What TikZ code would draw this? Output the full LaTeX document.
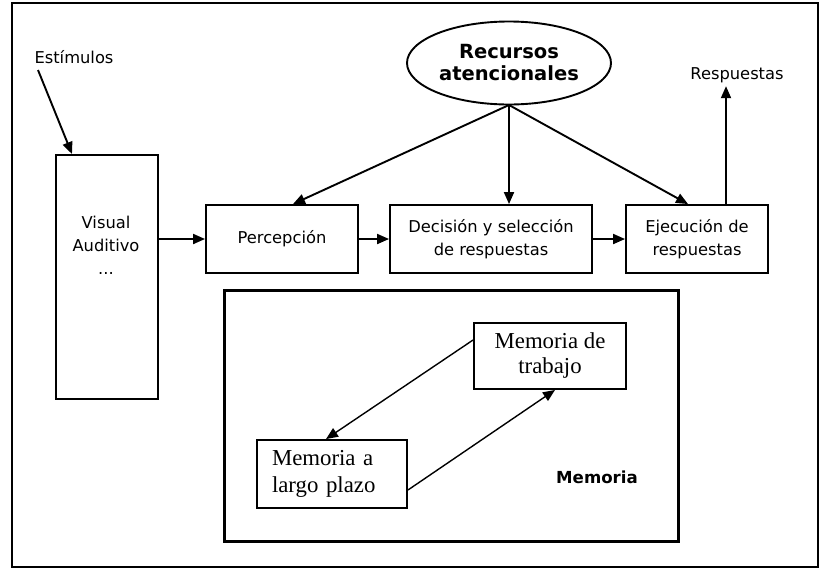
\documentclass[tikz,border=0pt]{standalone}
\usepackage{fontspec}
\setmainfont{DejaVu Sans}
\newfontfamily\serifmem{Liberation Serif}
\usetikzlibrary{shapes.geometric,arrows.meta}
\begin{document}
\begin{tikzpicture}[x=1pt,y=-1pt,
  box/.style={draw,line width=1.9pt,inner sep=0pt,align=center},
  arr/.style={-{Triangle[length=12pt,width=10pt]},line width=1.9pt},
  lbl/.style={font=\fontsize{16.3}{23}\selectfont},
  serlbl/.style={font=\serifmem\fontsize{22.8}{25}\selectfont}]
\useasboundingbox (0,0) rectangle (829,576);
\draw[line width=1.9pt] (12,3) rectangle (818,567);
% nodes
\node[box,minimum width=102pt,minimum height=244pt,anchor=north west] (vis) at (55,154) {};
\node[lbl,align=center] (vistxt) at (106,245) {Visual\\Auditivo\\...};
\node[box,minimum width=152pt,minimum height=68pt,lbl] (per) at (282,239) {Percepción};
\node[box,minimum width=202pt,minimum height=68pt,lbl] (dec) at (491,239) {Decisión y selección\\de respuestas};
\node[box,minimum width=142pt,minimum height=68pt,lbl] (eje) at (697,239) {Ejecución de\\respuestas};
\node[draw,line width=1.9pt,ellipse,minimum width=204pt,minimum height=83pt,inner sep=0pt,align=center,font=\bfseries\fontsize{19.5}{22}\selectfont] (rec) at (509,63) {Recursos\\atencionales};
\node[lbl] (est) at (74,57) {Estímulos};
\node[lbl] (res) at (737,75) {Respuestas};
% memory
\node[box,line width=2.6pt,minimum width=454pt,minimum height=251pt,anchor=north west] (mem) at (223,289) {};
\node[box,minimum width=152pt,minimum height=66pt,serlbl] (mdt) at (550,356) {Memoria de\\trabajo};
\node[box,minimum width=150pt,minimum height=68pt,font=\serifmem\fontsize{22.8}{27}\selectfont,align=left,text width=120pt] (mlp) at (332,474) {Memoria a\\largo plazo};
\node[font=\bfseries\fontsize{16.6}{18}\selectfont] (meml) at (597,477) {Memoria};
% connectors
\coordinate (rb) at (509,105);
\coordinate (es) at (38,70);
\draw[arr] (es) -- (vis.north west -| 72,154);
\draw[arr] (vis.east |- per.west) -- (per.west);
\draw[arr] (per.east) -- (dec.west);
\draw[arr] (dec.east) -- (eje.west);
\draw[arr] (rb) -- (per.north -| 293,205);
\draw[arr] (rb) -- (dec.north -| 509,205);
\draw[arr] (rb) -- (eje.north -| 688,205);
\draw[arr] (eje.north -| 726,205) -- (res.south -| 726,92);
\draw[arr,line width=1.4pt] (mdt.west |- 0,340) -- (mlp.north -| 326,440);
\draw[arr,line width=1.4pt] (mlp.east |- 0,490) -- (mdt.south -| 555,389);
\end{tikzpicture}
\end{document}
